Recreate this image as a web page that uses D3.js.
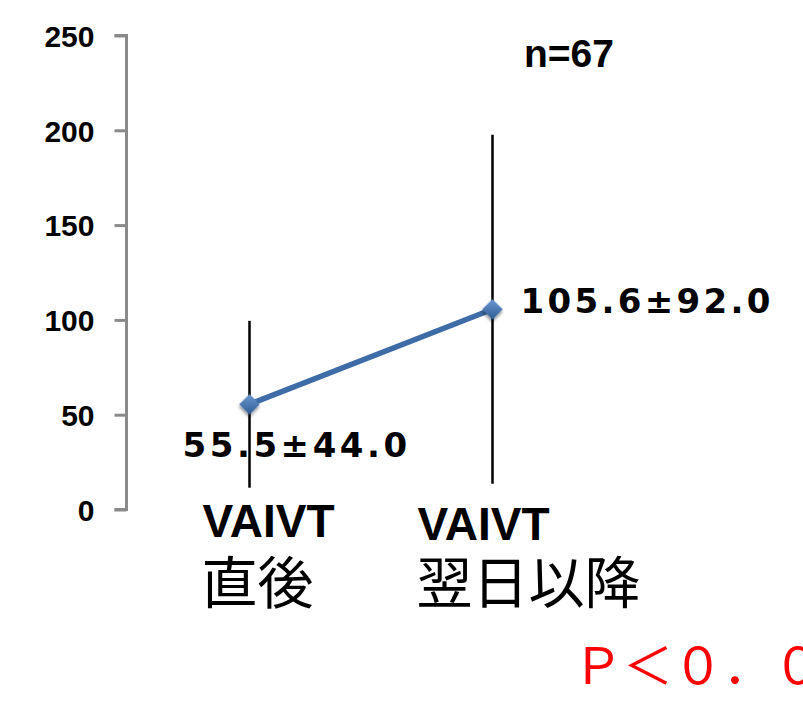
<!DOCTYPE html>
<html>
<head>
<meta charset="utf-8">
<script src="https://cdn.jsdelivr.net/npm/d3@7/dist/d3.min.js"></script>
<style>
  html, body { margin: 0; padding: 0; background: #ffffff; }
  svg { display: block; }
</style>
</head>
<body>
<script>
// Chart data
const categoryTop = ["VAIVT", "VAIVT"];
const categoryBottom = ["直後", "翌日以降"];
const means = [55.5, 105.6];
const sds = [44.0, 92.0];
const yTicks = [0, 50, 100, 150, 200, 250];
const sampleNote = "n=67";
const pNote = "Ｐ＜０．０５";

const W = 803, H = 710;
const svg = d3.select("body").append("svg")
  .attr("width", W).attr("height", H)
  .style("overflow", "hidden");

const defs = svg.append("defs");
const shadow = defs.append("filter").attr("id", "mk-shadow")
  .attr("x", "-50%").attr("y", "-50%").attr("width", "200%").attr("height", "200%");
shadow.append("feDropShadow")
  .attr("dx", 1.5).attr("dy", 2).attr("stdDeviation", 1.6)
  .attr("flood-color", "#000").attr("flood-opacity", 0.45);
const grad = defs.append("linearGradient").attr("id", "mk-fill")
  .attr("x1", "0").attr("y1", "0").attr("x2", "1").attr("y2", "1");
grad.append("stop").attr("offset", "0%").attr("stop-color", "#6b97d0");
grad.append("stop").attr("offset", "100%").attr("stop-color", "#2f5d94");

const y = d3.scaleLinear().domain([0, 250]).range([509.5, 35.5]);
const idx = d3.range(means.length);
const x = d3.scalePoint().domain(idx).range([249.5, 492.5]);

// Value axis
const axisX = 126.5;
const axis = d3.axisLeft(y).tickValues(yTicks).tickSize(12).tickPadding(20).tickFormat(d3.format("d"));
const gAxis = svg.append("g").attr("transform", `translate(${axisX},0)`).call(axis);
gAxis.select(".domain").attr("stroke", "#8a8a8a").attr("stroke-width", 3)
  .attr("d", `M-12,${y(250)}H0V${y(0)}H-12`);
gAxis.selectAll(".tick line").attr("stroke", "#8a8a8a").attr("stroke-width", 3);
gAxis.selectAll(".tick text")
  .attr("fill", "#000")
  .style("font-family", "'Liberation Sans', Arial, sans-serif")
  .style("font-weight", "bold")
  .style("font-size", "30px")
  .attr("dy", "0.36em");

// Error bars (mean ± SD)
svg.append("g").selectAll("line").data(idx).join("line")
  .attr("x1", i => x(i)).attr("x2", i => x(i))
  .attr("y1", i => y(means[i] + sds[i]))
  .attr("y2", i => y(means[i] - sds[i]))
  .attr("stroke", "#000").attr("stroke-width", 2.5);

// Mean line
svg.append("path")
  .datum(idx)
  .attr("d", d3.line().x(i => x(i)).y(i => y(means[i])))
  .attr("fill", "none")
  .attr("stroke", "#3d6ca7")
  .attr("stroke-width", 5.5);

// Diamond markers
svg.append("g").selectAll("path").data(idx).join("path")
  .attr("d", d3.symbol(d3.symbolSquare, 210)())
  .attr("transform", i => `translate(${x(i)},${y(means[i])}) rotate(45)`)
  .attr("fill", "url(#mk-fill)")
  .attr("filter", "url(#mk-shadow)");

// Value labels
const fmt = d3.format(".1f");
const labelText = i => fmt(means[i]) + "±" + fmt(sds[i]);
const labelOffsets = [[-67, 53], [28, 4]];
svg.append("g").selectAll("text").data(idx).join("text")
  .attr("x", i => x(i) + labelOffsets[i][0])
  .attr("y", i => y(means[i]) + labelOffsets[i][1])
  .attr("textLength", i => labelText(i).length * 25.3 - 3)
  .attr("lengthAdjust", "spacing")
  .style("font-family", "'DejaVu Sans', sans-serif")
  .style("font-weight", "bold")
  .style("font-size", "34px")
  .attr("fill", "#000")
  .text(labelText);

// Category labels (two lines each)
const catOffsets = [-47, -75];
const catText = svg.append("g").selectAll("text").data(idx).join("text")
  .attr("fill", "#000");
catText.append("tspan")
  .attr("x", i => x(i) + catOffsets[i])
  .attr("y", i => 537 + i * 3)
  .style("font-family", "'Liberation Sans', Arial, sans-serif")
  .style("font-weight", "bold")
  .style("font-size", "46px")
  .text(i => categoryTop[i]);
catText.append("tspan")
  .attr("x", i => x(i) + catOffsets[i] - 1)
  .attr("y", 603)
  .style("font-family", "'Noto Sans CJK JP', sans-serif")
  .style("font-size", "56px")
  .text(i => categoryBottom[i]);

// Sample size
svg.append("text")
  .attr("x", 524).attr("y", 67)
  .style("font-family", "'Liberation Sans', Arial, sans-serif")
  .style("font-weight", "bold")
  .style("font-size", "39px")
  .attr("fill", "#000")
  .text(sampleNote);

// Significance note
svg.append("text")
  .attr("x", 573).attr("y", 684)
  .style("font-family", "'Noto Sans CJK JP', sans-serif")
  .style("font-size", "50px")
  .attr("fill", "#ff0000")
  .text(pNote);
</script>
</body>
</html>
